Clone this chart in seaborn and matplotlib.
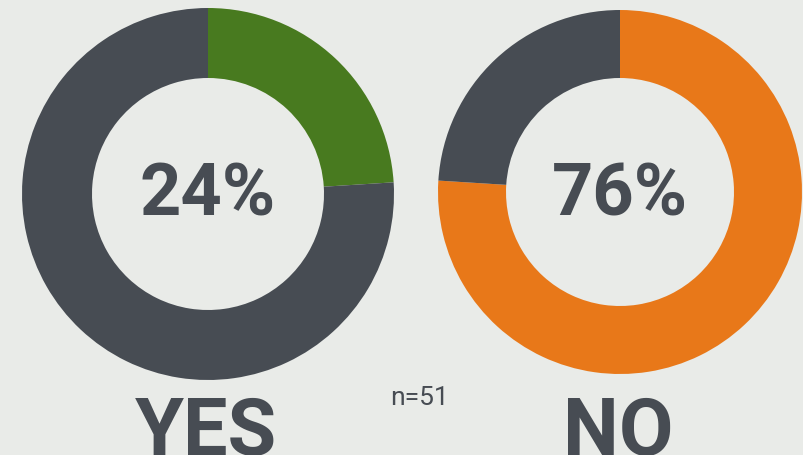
import matplotlib
matplotlib.use("Agg")
import matplotlib.pyplot as plt
import seaborn as sns

# survey answers, percent of respondents
answers = ["YES", "NO"]
shares = [24, 76]
sample_size = 51

bg = "#E9EBE8"
grey = "#474C53"
accent = ["#487A1F", "#E87819"]

sns.set_theme(style="white")
plt.rcParams["font.family"] = ["Roboto", "DejaVu Sans"]

fig = plt.figure(figsize=(8.04, 4.55), dpi=100, facecolor=bg)
ax = fig.add_axes([0, 0, 1, 1])
ax.set_facecolor(bg)

# donut placement (centre x, centre y, outer radius, ring width)
rings = [(208, 261, 186, 70), (620, 263, 182, 68)]
for label, share, colour, (cx, cy, r, w) in zip(answers, shares, accent, rings):
    ax.pie(
        [share, 100 - share],
        colors=[colour, grey],
        startangle=90,
        counterclock=False,
        center=(cx, cy),
        radius=r,
        wedgeprops=dict(width=w, linewidth=0),
        frame=True,
    )
    ax.text(cx, 239, f"{share}%", ha="center", va="baseline",
            fontsize=52, fontweight="bold", color=grey)
    ax.text(cx - 2, 0, label, ha="center", va="baseline",
            fontsize=57, fontweight="bold", color=grey)

ax.text(420, 50, f"n={sample_size}", ha="center", va="baseline",
        fontsize=19, color=grey)

ax.set_xlim(0, 804)
ax.set_ylim(0, 455)
ax.set_aspect("equal")
ax.axis("off")
fig.savefig("out.png", dpi=100, facecolor=bg)
